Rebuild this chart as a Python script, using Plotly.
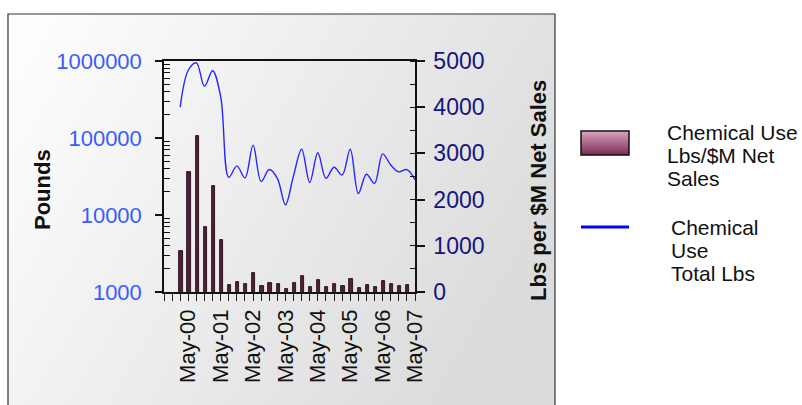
import base64
import plotly.graph_objects as go

# ---------------- data ----------------
quarters = ["Aug-99", "Nov-99", "Feb-00", "May-00", "Aug-00", "Nov-00", "Feb-01", "May-01",
            "Aug-01", "Nov-01", "Feb-02", "May-02", "Aug-02", "Nov-02", "Feb-03", "May-03",
            "Aug-03", "Nov-03", "Feb-04", "May-04", "Aug-04", "Nov-04", "Feb-05", "May-05",
            "Aug-05", "Nov-05", "Feb-06", "May-06", "Aug-06", "Nov-06", "Feb-07", "May-07"]

bar_quarters = quarters[2:31]          # Feb-00 .. Feb-07
bar_values = [3410, 36200, 106000, 6980, 23800, 4730, 1230, 1360, 1270, 1780,
              1200, 1310, 1280, 1090, 1297, 1614, 1172, 1432, 1172, 1270,
              1207, 1475, 1117, 1233, 1151, 1389, 1270, 1207, 1233]

line_quarters = quarters[2:32]         # Feb-00 .. May-07
line_values = [4000, 4800, 4960, 4450, 4790, 4230, 2480, 2730, 2470, 3180,
               2390, 2650, 2460, 1890, 2520, 3090, 2370, 3015, 2460, 2700,
               2530, 3090, 2130, 2550, 2350, 2990, 2750, 2600, 2650, 2430]

left_tickvals = [1000, 10000, 100000, 1000000]
left_ticktext = ["1000", "10000", "100000", "1000000"]
left_minor = [m * d for d in (1000, 10000, 100000) for m in range(2, 10)]

bar_name = "Chemical Use Lbs/$M Net Sales"
line_name = "Chemical Use Total Lbs"
legend1_lines = ["Chemical Use", "Lbs/$M Net", "Sales"]
legend2_lines = ["Chemical", "Use", "Total Lbs"]

# ---------------- geometry helpers (pixels -> paper) ----------------
W, H = 802, 405
L, R, T, B = 164, 415, 61, 292


def px(x):
    return (x - L) / (R - L)


def py(y):
    return (B - y) / (B - T)


FONT = "Liberation Sans, Arial, sans-serif"

fig = go.Figure()

fig.add_trace(go.Bar(
    x=bar_quarters, y=bar_values, name=bar_name,
    marker=dict(color="#561c39", line=dict(color="#12040a", width=0.8)),
    width=0.4, offset=-0.1, yaxis="y", showlegend=False,
))

fig.add_trace(go.Scatter(
    x=line_quarters, y=line_values, name=line_name, mode="lines",
    line=dict(color="#2626ff", width=1.4, shape="spline", smoothing=1),
    yaxis="y2", showlegend=False,
))

ticktext_x = [q if q.startswith("May") else "" for q in quarters]

fig.update_layout(
    width=W, height=H,
    margin=dict(l=L, r=W - R, t=T, b=H - B, pad=0),
    paper_bgcolor="white",
    plot_bgcolor="rgba(0,0,0,0)",
    font=dict(family=FONT, size=21, color="#111111"),
    bargap=0,
    xaxis=dict(
        type="category", categoryorder="array", categoryarray=quarters,
        range=[0, 31],
        tickmode="array", tickvals=quarters, ticktext=ticktext_x,
        tickangle=-90, ticks="outside", ticklen=7, tickwidth=1, tickcolor="#222",
        tickfont=dict(family=FONT, size=22, color="#111111"),
        showline=True, linecolor="#111", linewidth=1.5, mirror=True,
        showgrid=False, zeroline=False,
    ),
    yaxis=dict(
        type="log", range=[3, 6],
        tickmode="array", tickvals=left_tickvals, ticktext=left_ticktext,
        ticks="outside", ticklen=7, tickwidth=1.5, tickcolor="#111",
        ticklabelstandoff=9,
        tickfont=dict(family=FONT, size=22, color="#3a5cff"),
        minor=dict(tickmode="array", tickvals=left_minor, ticks="inside",
                   ticklen=6, tickwidth=1, tickcolor="#111", showgrid=False),
        showline=True, linecolor="#111", linewidth=1.5,
        showgrid=False, zeroline=False,
    ),
    yaxis2=dict(
        overlaying="y", side="right", anchor="x",
        range=[0, 5000], tickmode="linear", tick0=0, dtick=1000,
        ticks="outside", ticklen=8, tickwidth=1.5, tickcolor="#111",
        ticklabelstandoff=4,
        tickfont=dict(family=FONT, size=23, color="#141480"),
        minor=dict(dtick=500, ticks="inside", ticklen=5, tickwidth=1,
                   tickcolor="#111", showgrid=False),
        showline=True, linecolor="#111", linewidth=1.5,
        showgrid=False, zeroline=False,
    ),
)

# ---------------- background gradient box ----------------
bg_svg = ('<svg xmlns="http://www.w3.org/2000/svg" width="547" height="420" '
          'preserveAspectRatio="none" viewBox="0 0 547 420">'
          '<defs><linearGradient id="g" x1="0" y1="0" x2="1" y2="0.45">'
          '<stop offset="0" stop-color="#ffffff"/><stop offset="1" stop-color="#dcdcdc"/>'
          '</linearGradient></defs><rect width="547" height="420" fill="url(#g)"/></svg>')
bg_uri = "data:image/svg+xml;base64," + base64.b64encode(bg_svg.encode()).decode()

sw_svg = ('<svg xmlns="http://www.w3.org/2000/svg" width="48" height="24" '
          'preserveAspectRatio="none" viewBox="0 0 48 24">'
          '<defs><linearGradient id="s" x1="0" y1="0" x2="0" y2="1">'
          '<stop offset="0" stop-color="#d8a6bf"/><stop offset="1" stop-color="#7c2a54"/>'
          '</linearGradient></defs><rect width="48" height="24" fill="url(#s)"/></svg>')
sw_uri = "data:image/svg+xml;base64," + base64.b64encode(sw_svg.encode()).decode()

box_l, box_t, box_r, box_b = 8, 14, 555, 430
fig.add_layout_image(dict(
    source=bg_uri, xref="paper", yref="paper",
    x=px(box_l), y=py(box_t), sizex=px(box_r) - px(box_l), sizey=py(box_t) - py(box_b),
    xanchor="left", yanchor="top", sizing="stretch", layer="below",
))
fig.add_shape(type="rect", xref="paper", yref="paper",
              x0=px(box_l), x1=px(box_r), y0=py(box_b), y1=py(box_t),
              line=dict(color="#333333", width=1.2), fillcolor="rgba(0,0,0,0)", layer="below")

# ---------------- axis titles ----------------
fig.add_annotation(text="<b>Pounds</b>", xref="paper", yref="paper",
                   x=px(42), y=py(190), textangle=-90, showarrow=False,
                   font=dict(family=FONT, size=22, color="#111111"),
                   xanchor="center", yanchor="middle")
fig.add_annotation(text="<b>Lbs per $M Net Sales</b>", xref="paper", yref="paper",
                   x=px(538), y=py(191), textangle=-90, showarrow=False,
                   font=dict(family=FONT, size=22, color="#111111"),
                   xanchor="center", yanchor="middle")

# ---------------- legend (manual) ----------------
fig.add_layout_image(dict(
    source=sw_uri, xref="paper", yref="paper",
    x=px(581), y=py(131), sizex=px(629) - px(581), sizey=py(131) - py(155),
    xanchor="left", yanchor="top", sizing="stretch", layer="above",
))
fig.add_shape(type="rect", xref="paper", yref="paper",
              x0=px(581), x1=px(629), y0=py(155), y1=py(131),
              line=dict(color="#111111", width=1.5), fillcolor="rgba(0,0,0,0)")
fig.add_shape(type="line", xref="paper", yref="paper",
              x0=px(581), x1=px(629), y0=py(227), y1=py(227),
              line=dict(color="#0000ff", width=3))

for i, t in enumerate(legend1_lines):
    fig.add_annotation(text=t, xref="paper", yref="paper",
                       x=px(665), y=py(132 + 23.3 * i), showarrow=False,
                       font=dict(family=FONT, size=21, color="#111111"),
                       xanchor="left", yanchor="middle")
for i, t in enumerate(legend2_lines):
    fig.add_annotation(text=t, xref="paper", yref="paper",
                       x=px(669), y=py(227 + 23.3 * i), showarrow=False,
                       font=dict(family=FONT, size=21, color="#111111"),
                       xanchor="left", yanchor="middle")

fig.write_html("out.html", config={"displayModeBar": False},
               post_script="document.body.style.margin='0';")
